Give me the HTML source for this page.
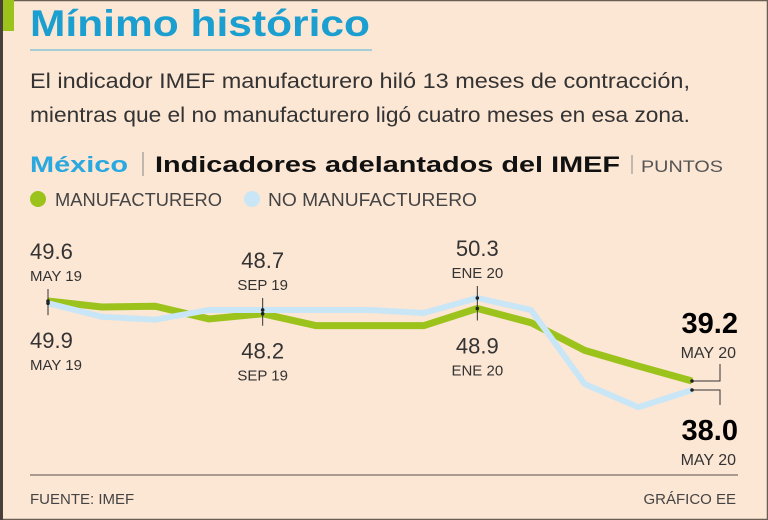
<!DOCTYPE html>
<html><head><meta charset="utf-8"><style>
html,body{margin:0;padding:0;background:#fce6d4;}
svg{display:block;font-family:"Liberation Sans",sans-serif;}
</style></head><body>
<svg id="chart" width="768" height="520" viewBox="0 0 768 520">
<rect x="0" y="0" width="768" height="520" fill="#fce6d4"/>
<rect x="0.5" y="0.5" width="767" height="519" fill="none" stroke="#6b5e55" stroke-width="1.5"/>
<rect x="0" y="0" width="3" height="520" fill="#4a403a"/>
<rect x="3" y="0" width="11" height="31" fill="#9cc21c"/>
<text x="30" y="36" font-size="37" font-weight="bold" fill="#1a9fd0" textLength="340" lengthAdjust="spacingAndGlyphs">Mínimo histórico</text>
<line x1="30" y1="50" x2="372" y2="50" stroke="#4fb3d9" stroke-width="1"/>
<text x="30" y="88" font-size="21" fill="#333" textLength="660" lengthAdjust="spacingAndGlyphs">El indicador IMEF manufacturero hiló 13 meses de contracción,</text>
<text x="30" y="122" font-size="21" fill="#333" textLength="660" lengthAdjust="spacingAndGlyphs">mientras que el no manufacturero ligó cuatro meses en esa zona.</text>
<text x="30" y="172" font-size="22" font-weight="bold" fill="#29a9e0" textLength="98" lengthAdjust="spacingAndGlyphs">México</text>
<line x1="143" y1="152" x2="143" y2="176" stroke="#888"/>
<text x="155" y="172" font-size="22" font-weight="bold" fill="#111" textLength="465" lengthAdjust="spacingAndGlyphs">Indicadores adelantados del IMEF</text>
<line x1="632" y1="155" x2="632" y2="174" stroke="#888"/>
<text x="641" y="172" font-size="17" fill="#555" textLength="82" lengthAdjust="spacingAndGlyphs">PUNTOS</text>
<circle cx="38" cy="199" r="8" fill="#9cc21c"/>
<text x="55" y="206" font-size="18" fill="#444" textLength="167" lengthAdjust="spacingAndGlyphs">MANUFACTURERO</text>
<circle cx="252" cy="199" r="8" fill="#c9e6f6"/>
<text x="268" y="206" font-size="18" fill="#444" textLength="209" lengthAdjust="spacingAndGlyphs">NO MANUFACTURERO</text>
<g id="plot"></g>
<line x1="30" y1="475" x2="738" y2="475" stroke="#5a4f48" stroke-width="1"/>
<text x="30" y="504" font-size="15" fill="#444">FUENTE: IMEF</text>
<text x="736" y="504" font-size="15" fill="#444" text-anchor="end">GRÁFICO EE</text>
</svg>
<script>
const months = ["MAY 19","JUN 19","JUL 19","AGO 19","SEP 19","OCT 19","NOV 19","DIC 19","ENE 20","FEB 20","MAR 20","ABR 20","MAY 20"];
const manufacturero = [49.9,49.1,49.2,47.5,48.2,46.6,46.6,46.6,48.9,47.0,43.3,41.2,39.2];
const noManufacturero = [49.6,47.8,47.4,48.7,48.7,48.7,48.7,48.3,50.3,48.7,38.8,35.7,38.0];
const NS="http://www.w3.org/2000/svg";
const g=document.getElementById('plot');
const xS=i=>48+i*(692-48)/(months.length-1);
const yS=v=>298+(50.3-v)*7.48;
function mk(tag,attrs){const e=document.createElementNS(NS,tag);for(const k in attrs)e.setAttribute(k,attrs[k]);g.appendChild(e);return e;}
function line(vals,color,w,name){
  const p=mk('polyline',{points:vals.map((v,i)=>xS(i)+','+yS(v)).join(' '),fill:'none',stroke:color,'stroke-width':w,'stroke-linejoin':'round'});
  
  
}
line(manufacturero,'#9cc21c',7,'line-manufacturero');
line(noManufacturero,'#c9e6f6',6,'line-no-manufacturero');
function txt(x,y,s,size,anchor,bold,name){
  const t=mk('text',{x:x,y:y,'font-size':size,fill:bold?'#000':'#333','text-anchor':anchor,'font-weight':bold?'bold':'normal'});
  t.textContent=s;
  
  
}
function tick(i,y1,y2,name){
  const l=mk('line',{x1:xS(i),y1:y1,x2:xS(i),y2:y2,stroke:'#333','stroke-width':1});
  
  
}
// annotated points: May19, Sep19, Ene20
[[0,'start'],[4,'middle'],[8,'middle']].forEach(([i,anc])=>{
  const hi=Math.max(manufacturero[i],noManufacturero[i]);
  const lo=Math.min(manufacturero[i],noManufacturero[i]);
  const top=i===0?noManufacturero[i]:(i===4?manufacturero[i]:noManufacturero[i]);
  const bot=i===0?manufacturero[i]:(i===4?manufacturero[i]-0.5:manufacturero[i]);
  const x=i===0?30:xS(i);
  const ty=yS(hi)-40, by=yS(lo)+40;
  tick(i,yS(hi)-12,yS(lo)+12,'tick-'+i);
  const topVal=i===0?49.6:(i===4?48.7:noManufacturero[i]);
  const botVal=i===0?49.9:(i===4?48.2:manufacturero[i]);
  txt(x,ty-2,topVal.toFixed(1),22,anc,false,'label-top-'+i);
  txt(x,ty+20,months[i],15,anc,false,'date-top-'+i);
  txt(x,by+5,botVal.toFixed(1),22,anc,false,'label-bottom-'+i);
  txt(x,by+27,months[i],15,anc,false,'date-bottom-'+i);
});
// final point brackets
const L=months.length-1;
const ym=yS(manufacturero[L]), yn=yS(noManufacturero[L]);
const b1=mk('polyline',{points:`${xS(L)},${ym} 720,${ym} 720,${ym-17}`,fill:'none',stroke:'#333'});


const b2=mk('polyline',{points:`${xS(L)},${yn} 720,${yn} 720,${yn+15}`,fill:'none',stroke:'#333'});


txt(738,ym-48,manufacturero[L].toFixed(1),29,'end',true,'label-final-manufacturero');
txt(736,ym-23,months[L],16,'end',false,'date-final-manufacturero');
txt(738,yn+50,noManufacturero[L].toFixed(1),29,'end',true,'label-final-no-manufacturero');
txt(736,yn+75,months[L],16,'end',false,'date-final-no-manufacturero');
// point markers
[0,4,8,L].forEach(i=>{
  [manufacturero,noManufacturero].forEach((arr,k)=>{
    const c=mk('circle',{cx:xS(i),cy:yS(arr[i]),r:1.8,fill:'#222'});
    
    
  });
});
</script>
</body></html>
